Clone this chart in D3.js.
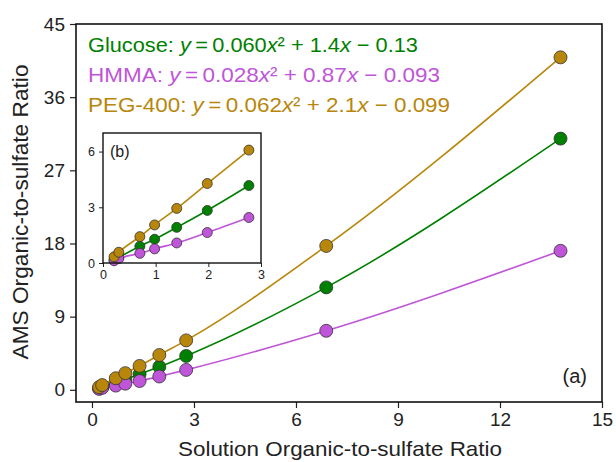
<!DOCTYPE html>
<html>
<head>
<meta charset="utf-8">
<script src="https://cdn.jsdelivr.net/npm/d3@7"></script>
<style>
  body { margin: 0; background: #fff; }
  text { font-family: "Liberation Sans", Arial, sans-serif; }
</style>
</head>
<body>
<svg id="chart" width="616" height="462"></svg>
<script>
// data
const solX = [0.21, 0.30, 0.70, 0.98, 1.40, 1.98, 2.77, 6.89, 13.78]
const glucose = [0.16, 0.30, 0.90, 1.28, 1.92, 2.83, 4.17, 12.6, 30.9]
const hmma = [0.12, 0.24, 0.52, 0.76, 1.08, 1.64, 2.45, 7.26, 17.1]
const peg = [0.33, 0.58, 1.42, 2.05, 2.94, 4.28, 6.08, 17.7, 40.9]
const xTicks = [0, 3, 6, 9, 12, 15]
const yTicks = [0, 9, 18, 27, 36, 45]
const insetXTicks = [0, 1, 2, 3]
const insetYTicks = [0, 3, 6]
const fitLabels = [
    { name: "Glucose", a: "0.060", b: "1.4", c: "0.13", color: "#008000" },
    { name: "HMMA", a: "0.028", b: "0.87", c: "0.093", color: "#bf55d8" },
    { name: "PEG-400", a: "0.062", b: "2.1", c: "0.099", color: "#b8860b" }
]

const seriesList = [
    { vals: glucose, color: "#008000" },
    { vals: hmma, color: "#bf55d8" },
    { vals: peg, color: "#b8860b" }
]

const svg = d3.select("#chart")
const tickCol = "#222"

//main scales
var x_scale = d3.scaleLinear().domain([-0.47, 15]).range([76, 602])
var y_scale = d3.scaleLinear().domain([-1.5, 45]).range([402, 24])

const drawSeries = (g, xs, ys, r, keep) => {
    seriesList.forEach(s => {
        let pts = solX.map((x, i) => ({ x: x, y: s.vals[i] })).filter(keep)
        let line = d3.line()
            .x(d => xs(d.x))
            .y(d => ys(d.y))
            .curve(d3.curveMonotoneX)
        g.append("path")
            .attr("d", line(pts))
            .attr("fill", "none")
            .attr("stroke", s.color)
            .attr("stroke-width", 1.6)
        g.selectAll(null)
            .data(pts)
            .enter()
            .append("circle")
            .attr("cx", d => xs(d.x))
            .attr("cy", d => ys(d.y))
            .attr("r", r)
            .attr("fill", s.color)
            .attr("stroke", "#333")
            .attr("stroke-width", 0.8)
    })
}

// main series (drawn in order glucose, hmma, peg)
drawSeries(svg.append("g"), x_scale, y_scale, 6.5, d => true)

//Axes
var x_axis = d3.axisBottom(x_scale).tickValues(xTicks).tickSizeInner(6).tickSizeOuter(0).tickPadding(5)
var y_axis = d3.axisLeft(y_scale).tickValues(yTicks).tickSizeInner(6).tickSizeOuter(0).tickPadding(5)
var gx = svg.append("g").attr("transform", "translate(0,402)").call(x_axis)
var gy = svg.append("g").attr("transform", "translate(76,0)").call(y_axis)
;[gx, gy].forEach(g => {
    g.select(".domain").remove()
    g.selectAll(".tick line").attr("stroke", tickCol).attr("stroke-width", 1.2)
    g.selectAll(".tick text").attr("fill", tickCol).style("font-size", "19px")
})

// frame
svg.append("rect")
    .attr("x", 76).attr("y", 24)
    .attr("width", 526).attr("height", 378)
    .attr("fill", "none")
    .attr("stroke", "#111")
    .attr("stroke-width", 1.6)

// axis labels
svg.append("text")
    .attr("x", 340).attr("y", 456)
    .attr("text-anchor", "middle")
    .attr("fill", tickCol)
    .attr("textLength", 324)
    .attr("lengthAdjust", "spacingAndGlyphs")
    .style("font-size", "21px")
    .text("Solution Organic-to-sulfate Ratio")
svg.append("text")
    .attr("transform", "translate(28,212) rotate(-90)")
    .attr("text-anchor", "middle")
    .attr("fill", tickCol)
    .attr("textLength", 295)
    .attr("lengthAdjust", "spacingAndGlyphs")
    .style("font-size", "21.5px")
    .text("AMS Organic-to-sulfate Ratio")

// equations
const eqWidths = [330, 352, 362]
fitLabels.forEach((f, i) => {
    let t = svg.append("text")
        .attr("x", 88).attr("y", 52 + i * 30)
        .attr("fill", f.color)
        .attr("textLength", eqWidths[i])
        .attr("lengthAdjust", "spacingAndGlyphs")
        .style("font-size", "21px")
    t.append("tspan").text(f.name + ": ")
    t.append("tspan").style("font-style", "italic").text("y")
    t.append("tspan").text("\u2009=\u2009" + f.a)
    t.append("tspan").style("font-style", "italic").text("x")
    t.append("tspan").text("² + " + f.b)
    t.append("tspan").style("font-style", "italic").text("x")
    t.append("tspan").text(" − " + f.c)
})

svg.append("text")
    .attr("x", 587).attr("y", 383)
    .attr("text-anchor", "end")
    .attr("fill", tickCol)
    .style("font-size", "20px")
    .text("(a)")

//inset ==========================
var ix = d3.scaleLinear().domain([0, 3]).range([103, 261])
var iy = d3.scaleLinear().domain([0, 7]).range([263, 133])
svg.append("rect")
    .attr("x", 103).attr("y", 133)
    .attr("width", 158).attr("height", 130)
    .attr("fill", "#fff")
var ig = svg.append("g")
drawSeries(ig, ix, iy, 5, d => d.x < 3)

var ix_axis = d3.axisBottom(ix).tickValues(insetXTicks).tickFormat(d3.format("d")).tickSizeInner(4).tickSizeOuter(0).tickPadding(3)
var iy_axis = d3.axisLeft(iy).tickValues(insetYTicks).tickFormat(d3.format("d")).tickSizeInner(4).tickSizeOuter(0).tickPadding(4)
var gix = svg.append("g").attr("transform", "translate(0,263)").call(ix_axis)
var giy = svg.append("g").attr("transform", "translate(103,0)").call(iy_axis)
;[gix, giy].forEach(g => {
    g.select(".domain").remove()
    g.selectAll(".tick line").attr("stroke", tickCol).attr("stroke-width", 1)
    g.selectAll(".tick text").attr("fill", tickCol).style("font-size", "12.5px")
})
svg.append("rect")
    .attr("x", 103).attr("y", 133)
    .attr("width", 158).attr("height", 130)
    .attr("fill", "none")
    .attr("stroke", "#111")
    .attr("stroke-width", 1.4)
svg.append("text")
    .attr("x", 110).attr("y", 157)
    .attr("fill", tickCol)
    .style("font-size", "16px")
    .text("(b)")
</script>
</body>
</html>
